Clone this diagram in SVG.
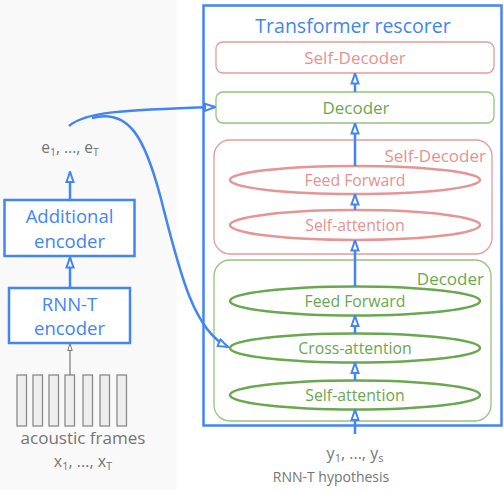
<svg xmlns="http://www.w3.org/2000/svg" width="504" height="490" viewBox="0 0 504 490">
<style>
text{font-family:"Open Sans","Liberation Sans",sans-serif;text-anchor:middle}
.blue{fill:#4285f4}
.grey{fill:#757575}
.pinkT{fill:#e8918f}
.greenT{fill:#6aa84f}
.bbox{fill:#fff;stroke:#4285f4;stroke-width:2.5}
.pbox{fill:#fff;stroke:#ea9999;stroke-width:1.3}
.gbox{fill:#fff;stroke:#93c47d;stroke-width:1.3}
.pell{fill:#fff;stroke:#e69494;stroke-width:2.5}
.gell{fill:#fff;stroke:#6aa84f;stroke-width:2.5}
.conn{fill:none;stroke:#4285f4;stroke-width:2.5}
.frame{fill:#eeeeee;stroke:#8a8a8a;stroke-width:1.3}
.lbl{font-size:17px}
.ell{font-size:15.8px}
.enc{font-size:18.5px}
</style>
<defs>
<marker id="ah" markerUnits="userSpaceOnUse" viewBox="0 0 12 10" refX="11" refY="5" markerWidth="12" markerHeight="10" orient="auto">
<path d="M1,1.5 L11,5 L1,8.5 Z" fill="#fff" stroke="#4285f4" stroke-width="2"/>
</marker>
<marker id="ahg" markerUnits="userSpaceOnUse" viewBox="0 0 8 6" refX="7.5" refY="3" markerWidth="8" markerHeight="6" orient="auto">
<path d="M0.5,0.8 L7.5,3 L0.5,5.2 Z" fill="#fff" stroke="#777" stroke-width="1"/>
</marker>
</defs>
<rect x="0" y="0" width="504" height="490" fill="#fff"/>
<rect x="0" y="0" width="177" height="490" fill="#f9f9f9"/>

<g id="frames">
<rect class="frame" x="17" y="375" width="9.5" height="51"/>
<rect class="frame" x="33" y="375" width="9.5" height="51"/>
<rect class="frame" x="49" y="375" width="9.5" height="51"/>
<rect class="frame" x="65" y="375" width="9.5" height="51"/>
<rect class="frame" x="83" y="375" width="9.5" height="51"/>
<rect class="frame" x="100" y="375" width="9.5" height="51"/>
<rect class="frame" x="117" y="375" width="9.5" height="51"/>
<text class="grey" x="83" y="444" font-size="17">acoustic frames</text>
<text class="grey" x="83" y="467" font-size="16">x<tspan font-size="11" dy="3">1</tspan><tspan dy="-3">, ..., x</tspan><tspan font-size="11" dy="3">T</tspan></text>
</g>

<g id="rnnt-encoder">
<rect class="bbox" x="9" y="288" width="121" height="55"/>
<text class="blue enc" x="69.5" y="311">RNN-T</text>
<text class="blue enc" x="69.5" y="335">encoder</text>
</g>

<g id="additional-encoder">
<rect class="bbox" x="4.5" y="200" width="130" height="56"/>
<text class="blue enc" x="69.5" y="223">Additional</text>
<text class="blue enc" x="69.5" y="247.5">encoder</text>
</g>

<g id="e-label">
<text class="grey" x="70" y="153" font-size="15.5">e<tspan font-size="10.5" dy="3">1</tspan><tspan dy="-3">, ..., e</tspan><tspan font-size="10.5" dy="3">T</tspan></text>
</g>

<g id="transformer-rescorer">
<rect class="bbox" x="203.5" y="5.5" width="298" height="420"/>
<text class="blue" x="353" y="33" font-size="19.5">Transformer rescorer</text>
</g>

<g id="self-decoder-box">
<rect class="pbox" x="216" y="42" width="278" height="31" rx="7"/>
<text class="pinkT lbl" x="355" y="64">Self-Decoder</text>
</g>

<g id="decoder-box">
<rect class="gbox" x="216" y="92" width="278" height="31" rx="7"/>
<text class="greenT lbl" x="356" y="114">Decoder</text>
</g>

<g id="self-decoder-block">
<rect class="pbox" x="214" y="140" width="278" height="114" rx="16"/>
<text class="pinkT lbl" x="486" y="162" style="text-anchor:end">Self-Decoder</text>
</g>

<g id="sd-feed-forward">
<ellipse class="pell" cx="355" cy="180" rx="125" ry="14"/>
<text class="pinkT ell" x="355" y="186">Feed Forward</text>
</g>

<g id="sd-self-attention">
<ellipse class="pell" cx="355" cy="225" rx="125" ry="15"/>
<text class="pinkT ell" x="355" y="231">Self-attention</text>
</g>

<g id="decoder-block">
<rect class="gbox" x="214" y="260" width="277" height="161" rx="16"/>
<text class="greenT lbl" x="484" y="285" style="text-anchor:end">Decoder</text>
</g>

<g id="d-feed-forward">
<ellipse class="gell" cx="355" cy="301" rx="125" ry="14.5"/>
<text class="greenT ell" x="355" y="307">Feed Forward</text>
</g>

<g id="d-cross-attention">
<ellipse class="gell" cx="355" cy="348" rx="125" ry="14.5"/>
<text class="greenT ell" x="355" y="354">Cross-attention</text>
</g>

<g id="d-self-attention">
<ellipse class="gell" cx="355" cy="395" rx="125" ry="14.5"/>
<text class="greenT ell" x="355" y="401">Self-attention</text>
</g>

<g id="hypothesis">
<text class="grey" x="355" y="459" font-size="16">y<tspan font-size="11" dy="3">1</tspan><tspan dy="-3">, ..., y</tspan><tspan font-size="11" dy="3">s</tspan></text>
<text class="grey" x="331" y="482" font-size="14">RNN-T hypothesis</text>
</g>

<g id="connectors">
<line x1="70" y1="375" x2="70" y2="343.5" stroke="#777" stroke-width="1.2" marker-end="url(#ahg)"/>
<line class="conn" x1="70" y1="287" x2="70" y2="257.5" marker-end="url(#ah)"/>
<line class="conn" x1="70" y1="199" x2="70" y2="172" marker-end="url(#ah)"/>
<path class="conn" d="M69,126 C85,112 120,110 215,107" marker-end="url(#ah)"/>
<path class="conn" d="M92,118 C130,108 145,140 160,195 C178,265 192,330 228,347" marker-end="url(#ah)"/>
<line class="conn" x1="355" y1="92" x2="355" y2="73.5" marker-end="url(#ah)"/>
<line class="conn" x1="355" y1="166" x2="355" y2="123.5" marker-end="url(#ah)"/>
<line class="conn" x1="355" y1="210" x2="355" y2="194.5" marker-end="url(#ah)"/>
<line class="conn" x1="355" y1="286.5" x2="355" y2="240.5" marker-end="url(#ah)"/>
<line class="conn" x1="355" y1="333.5" x2="355" y2="316" marker-end="url(#ah)"/>
<line class="conn" x1="355" y1="380.5" x2="355" y2="363" marker-end="url(#ah)"/>
<line class="conn" x1="355" y1="434" x2="355" y2="410" marker-end="url(#ah)"/>
</g>
</svg>
